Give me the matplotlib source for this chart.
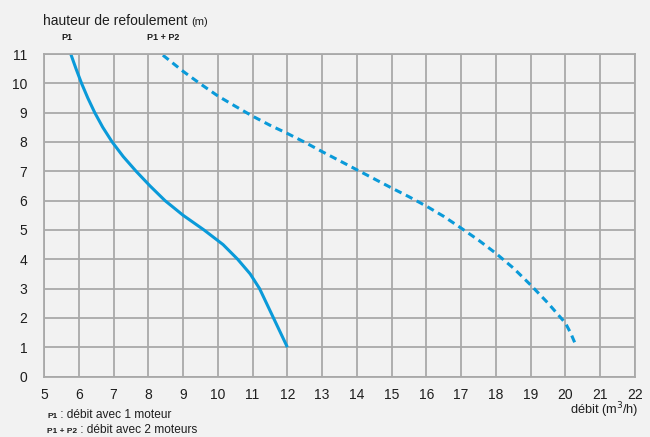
import matplotlib
matplotlib.use("Agg")
import matplotlib.pyplot as plt

plt.rcParams['font.family'] = ['Liberation Sans', 'DejaVu Sans']

# Data
p1_x = [5.77, 5.92, 6.08, 6.26, 6.46, 6.69, 6.96, 7.28, 7.65, 8.05, 8.48, 9.0, 9.6,
        10.15, 10.57, 10.93, 11.2, 11.4, 11.6, 11.8, 12.0]
p1_y = [11.0, 10.5, 10.0, 9.5, 9.0, 8.5, 8.0, 7.5, 7.0, 6.5, 6.0, 5.5, 5.0,
        4.5, 4.0, 3.5, 3.0, 2.5, 2.0, 1.5, 1.0]
p12_x = [8.42, 9.0, 9.5, 10.0, 10.5, 11.0, 11.5, 12.0, 12.5, 13.0, 13.5, 14.0, 14.5,
         15.0, 15.5, 16.0, 16.5, 17.0, 17.5, 18.0, 18.5, 19.0, 19.5, 20.0, 20.15, 20.28]
p12_y = [10.96, 10.41, 9.98, 9.57, 9.22, 8.88, 8.57, 8.29, 7.99, 7.67, 7.36, 7.05, 6.74,
         6.43, 6.13, 5.81, 5.46, 5.06, 4.65, 4.2, 3.7, 3.12, 2.5, 1.82, 1.48, 1.12]
x_ticks = list(range(5, 23))
y_ticks = list(range(0, 12))

W, H = 650, 437
BG = '#f2f2f2'
BLUE = '#0a9ad9'
GRID = '#a9a9a9'
TXT = '#1e1e1e'

fig = plt.figure(figsize=(W/100, H/100), dpi=100, facecolor=BG)
ax = fig.add_axes([44/W, 1-376.5/H, (635-44)/W, (376.5-54)/H])
ax.set_facecolor(BG)
ax.set_xlim(5, 22)
ax.set_ylim(0, 11)
ax.set_xticks(x_ticks)
ax.set_yticks(y_ticks)
ax.grid(True, color=GRID, linewidth=1.3)
ax.set_axisbelow(True)
for s in ax.spines.values():
    s.set_color(GRID)
    s.set_linewidth(1.3)
ax.tick_params(length=0, labelsize=10, colors=TXT)
ax.tick_params(axis='x', pad=8)
ax.tick_params(axis='y', pad=12)

ax.plot(p1_x, p1_y, color=BLUE, lw=2.2, solid_capstyle='butt', solid_joinstyle='round')
ax.plot(p12_x, p12_y, color=BLUE, lw=2.2, dashes=(2.4, 1.6))

renderer = fig.canvas.get_renderer()

def ft(x, y, s, **kw):
    return fig.text(x/W, 1-y/H, s, va='baseline', color=TXT, **kw)

def seq(x, y, parts):
    for s, kw in parts:
        t = ft(x, y, s, **kw)
        x += t.get_window_extent(renderer=renderer).width

seq(43, 25, [('hauteur de refoulement ', dict(fontsize=10)), ('(m)', dict(fontsize=8))])
ft(61, 40, 'P1', fontsize=6.5, fontweight='bold')
ft(147, 40, 'P1 + P2', fontsize=6.5, fontweight='bold')
ft(638, 414, 'débit (m$^3$/h)', fontsize=9.2, ha='right')
seq(47, 418, [('P1', dict(fontsize=6, fontweight='bold')), (' : débit avec 1 moteur', dict(fontsize=8.6))])
seq(47, 433, [('P1 + P2', dict(fontsize=6, fontweight='bold')), (' : débit avec 2 moteurs', dict(fontsize=8.6))])

fig.savefig('out.png', dpi=100, facecolor=BG)
